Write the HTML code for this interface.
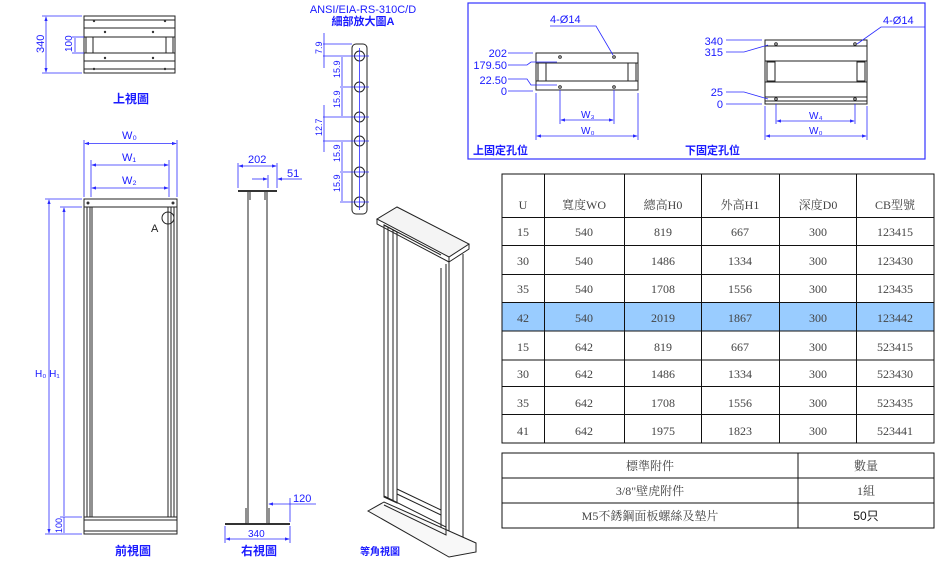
<!DOCTYPE html>
<html><head><meta charset="utf-8"><style>
html,body{margin:0;padding:0;background:#fff;}
svg{display:block;}
.b{fill:#1a1aff;font-family:"Liberation Sans","Noto Sans CJK TC",sans-serif;}
.t{font-family:"Liberation Serif","Noto Serif CJK SC",serif;fill:#444;font-size:12px;text-anchor:middle;}
.d{stroke:#2a2aff;stroke-width:0.8;fill:none;}
.k{stroke:#222;stroke-width:1;fill:none;}
</style></head><body>
<svg width="945" height="564" viewBox="0 0 945 564" xmlns="http://www.w3.org/2000/svg">
<defs><marker id="a" markerWidth="6" markerHeight="6" refX="5" refY="3" orient="auto-start-reverse"><path d="M0,1 L6,3 L0,5z" fill="#2a2aff"/></marker></defs>

<!-- Top view -->
<rect x="84" y="16" width="91" height="57" class="k" fill="#fafafa"/>
<line x1="84" y1="20" x2="175" y2="20" class="k"/><line x1="84" y1="28" x2="175" y2="28" class="k"/>
<line x1="84" y1="37" x2="175" y2="37" class="k"/><line x1="84" y1="53" x2="175" y2="53" class="k"/>
<line x1="84" y1="61" x2="175" y2="61" class="k"/><line x1="84" y1="69" x2="175" y2="69" class="k"/>
<rect x="86" y="37" width="7" height="16" class="k"/><rect x="166" y="37" width="7" height="16" class="k"/>
<g fill="#333"><circle cx="94" cy="21" r="1.2"/><circle cx="165" cy="21" r="1.2"/><circle cx="105" cy="32" r="1.2"/><circle cx="153" cy="32" r="1.2"/><circle cx="105" cy="58" r="1.2"/><circle cx="153" cy="58" r="1.2"/><circle cx="94" cy="69" r="1.2"/><circle cx="165" cy="69" r="1.2"/></g>
<line x1="42" y1="16" x2="82" y2="16" class="d"/><line x1="42" y1="73" x2="82" y2="73" class="d"/>
<line x1="46" y1="17" x2="46" y2="72" class="d" marker-start="url(#a)" marker-end="url(#a)"/>
<text class="b" font-size="11" transform="translate(44,53) rotate(-90)">340</text>
<line x1="72" y1="37" x2="84" y2="37" class="d"/><line x1="72" y1="53" x2="84" y2="53" class="d"/>
<line x1="75" y1="38" x2="75" y2="52" class="d"/>
<text class="b" font-size="10" transform="translate(72,52) rotate(-90)">100</text>
<text class="b" x="113" y="103" font-size="12" font-weight="bold">上視圖</text>

<!-- Front view -->
<rect x="84" y="199" width="93" height="8" class="k" stroke-width="1.5" fill="#eee"/>
<rect x="84" y="199" width="93" height="335" class="k" stroke-width="1.5"/>
<line x1="87" y1="207" x2="87" y2="517" class="k" stroke-width="1.5"/><line x1="90" y1="207" x2="90" y2="517" class="k"/><line x1="92" y1="207" x2="92" y2="517" class="k" stroke-width="1.5"/>
<line x1="168" y1="207" x2="168" y2="517" class="k" stroke-width="1.5"/><line x1="171" y1="207" x2="171" y2="517" class="k"/><line x1="174" y1="207" x2="174" y2="517" class="k" stroke-width="1.5"/>
<line x1="84" y1="517" x2="177" y2="517" class="k" stroke-width="1.5"/><line x1="84" y1="520" x2="177" y2="520" class="k"/><line x1="84" y1="531" x2="177" y2="531" class="k" stroke-width="1.5"/>
<circle cx="88" cy="203" r="1.5" fill="#333"/><circle cx="173" cy="203" r="1.5" fill="#333"/>
<circle cx="168" cy="218" r="6" class="k" stroke-width="0.7"/>
<text x="151" y="232" font-size="11" font-family="Liberation Sans" fill="#222">A</text>
<line x1="84" y1="140" x2="84" y2="197" class="d"/><line x1="177" y1="140" x2="177" y2="197" class="d"/>
<line x1="91" y1="160" x2="91" y2="197" class="d"/><line x1="169" y1="160" x2="169" y2="197" class="d"/>
<line x1="85" y1="143.5" x2="176" y2="143.5" class="d" marker-start="url(#a)" marker-end="url(#a)"/>
<line x1="92" y1="165" x2="168" y2="165" class="d" marker-start="url(#a)" marker-end="url(#a)"/>
<line x1="92" y1="188" x2="168" y2="188" class="d" marker-start="url(#a)" marker-end="url(#a)"/>
<text class="b" x="122" y="139" font-size="11">W₀</text>
<text class="b" x="122" y="161" font-size="11">W₁</text>
<text class="b" x="122" y="184" font-size="11">W₂</text>
<line x1="45" y1="199" x2="82" y2="199" class="d"/><line x1="60" y1="207" x2="82" y2="207" class="d"/>
<line x1="45" y1="534" x2="82" y2="534" class="d"/><line x1="60" y1="517" x2="82" y2="517" class="d"/>
<line x1="49" y1="200" x2="49" y2="533" class="d" marker-start="url(#a)" marker-end="url(#a)"/>
<line x1="64" y1="208" x2="64" y2="516" class="d" marker-start="url(#a)"/>
<line x1="64" y1="517" x2="64" y2="533" class="d"/>
<text class="b" x="35" y="377" font-size="10">H₀ H₁</text>
<text class="b" font-size="9" transform="translate(62,533) rotate(-90)">100</text>
<text class="b" x="115" y="555" font-size="12" font-weight="bold">前視圖</text>

<!-- Right view -->
<line x1="238" y1="191" x2="277" y2="191" stroke="#333" stroke-width="2"/>
<line x1="248" y1="192" x2="248" y2="524" class="k" stroke-width="1.3"/>
<line x1="267" y1="192" x2="267" y2="524" class="k" stroke-width="1.3"/>
<line x1="250" y1="192" x2="250" y2="200" class="k"/><line x1="265" y1="192" x2="265" y2="200" class="k"/>
<line x1="225" y1="524" x2="290" y2="524" stroke="#333" stroke-width="2"/>
<path d="M246,524 V508 M269,524 V508" class="k"/>
<line x1="238" y1="163" x2="238" y2="188" class="d"/><line x1="277" y1="163" x2="277" y2="188" class="d"/><line x1="268" y1="175" x2="268" y2="188" class="d"/>
<line x1="239" y1="166" x2="276" y2="166" class="d" marker-start="url(#a)" marker-end="url(#a)"/>
<text class="b" x="248" y="163" font-size="11">202</text>
<line x1="252" y1="179" x2="267" y2="179" class="d" marker-end="url(#a)"/><line x1="287" y1="179" x2="278" y2="179" class="d" marker-end="url(#a)"/><line x1="287" y1="179" x2="302" y2="179" class="d"/>
<text class="b" x="287" y="177" font-size="11">51</text>
<line x1="290" y1="498" x2="290" y2="522" class="d"/>
<line x1="290" y1="504" x2="269" y2="504" class="d" marker-end="url(#a)"/><line x1="290" y1="504" x2="316" y2="504" class="d"/>
<text class="b" x="293" y="502" font-size="11">120</text>
<line x1="225" y1="526" x2="225" y2="543" class="d"/><line x1="290" y1="526" x2="290" y2="543" class="d"/>
<line x1="226" y1="539" x2="289" y2="539" class="d" marker-start="url(#a)" marker-end="url(#a)"/>
<text class="b" x="248" y="537" font-size="10">340</text>
<text class="b" x="241" y="555" font-size="12" font-weight="bold">右視圖</text>

<!-- Detail A -->
<text class="b" x="363" y="13" font-size="11" text-anchor="middle">ANSI/EIA-RS-310C/D</text>
<text class="b" x="363" y="25" font-size="11" text-anchor="middle" font-weight="bold">細部放大圖A</text>
<rect x="352" y="44" width="15" height="170" rx="4" class="k" stroke-width="0.8"/>
<g class="k" stroke-width="0.8">
<circle cx="359.5" cy="56" r="5"/><circle cx="359.5" cy="87" r="5"/><circle cx="359.5" cy="117" r="5"/><circle cx="359.5" cy="141" r="5"/><circle cx="359.5" cy="172" r="5"/><circle cx="359.5" cy="202" r="5"/>
</g>
<g class="d">
<line x1="323" y1="44" x2="352" y2="44"/><line x1="323" y1="56" x2="369" y2="56"/><line x1="340" y1="87" x2="369" y2="87"/><line x1="323" y1="117" x2="369" y2="117"/><line x1="323" y1="141" x2="369" y2="141"/><line x1="340" y1="172" x2="369" y2="172"/><line x1="340" y1="202" x2="369" y2="202"/>
<line x1="324" y1="33" x2="324" y2="68"/><line x1="342" y1="57" x2="342" y2="86"/><line x1="342" y1="88" x2="342" y2="116"/><line x1="324" y1="105" x2="324" y2="152"/><line x1="342" y1="142" x2="342" y2="171"/><line x1="342" y1="173" x2="342" y2="201"/>
<line x1="359.5" y1="48" x2="359.5" y2="210"/>
</g>
<g class="b" font-size="9">
<text transform="translate(322,54) rotate(-90)">7.9</text>
<text transform="translate(340,78) rotate(-90)">15.9</text>
<text transform="translate(340,108) rotate(-90)">15.9</text>
<text transform="translate(322,136) rotate(-90)">12.7</text>
<text transform="translate(340,162) rotate(-90)">15.9</text>
<text transform="translate(340,192) rotate(-90)">15.9</text>
</g>

<!-- Isometric -->
<g class="k" stroke-width="0.8" fill="#fff">
<path d="M377,219 L397,207 L469,244 L449,257 Z" fill="#f4f4f4"/>
<path d="M377,219 L377,224 L449,262 L449,257" />
<path d="M449,262 L469,249 L469,244"/>
<path d="M384,225 L384,497 L397,503 L397,232 Z"/>
<line x1="388" y1="227" x2="388" y2="499"/><line x1="393" y1="230" x2="393" y2="501"/>
<path d="M449,262 L449,548 L463,548 L463,254" />
<line x1="446" y1="264" x2="446" y2="545"/><line x1="441" y1="268" x2="441" y2="540"/>
<path d="M368,511 L384,502 L476,543 L476,552 L449,557 Z" fill="#f8f8f8"/>
<path d="M384,496 L446,527 L446,535 L384,505"/>
<line x1="397" y1="489" x2="441" y2="510"/><line x1="397" y1="494" x2="441" y2="515"/>
<line x1="384" y1="225" x2="441" y2="255"/>
</g>
<text class="b" x="360" y="555" font-size="10" font-weight="bold">等角視圖</text>

<!-- Blue box -->
<rect x="468" y="3" width="457" height="156" fill="none" stroke="#3333ff" stroke-width="1.2"/>
<rect x="536" y="53" width="102" height="37" class="k" stroke-width="0.8" fill="#fafafa"/>
<line x1="536" y1="63" x2="638" y2="63" class="k" stroke-width="1.2"/><line x1="536" y1="81" x2="638" y2="81" class="k" stroke-width="1.2"/>
<rect x="538" y="63" width="8" height="18" class="k" stroke-width="0.8"/><rect x="628" y="63" width="8" height="18" class="k" stroke-width="0.8"/>
<g class="k" stroke-width="0.7"><circle cx="560" cy="57" r="1.3"/><circle cx="614" cy="57" r="1.3"/><circle cx="560" cy="87" r="1.3"/><circle cx="614" cy="87" r="1.3"/></g>
<g class="d">
<line x1="508" y1="53" x2="533" y2="53"/><path d="M508,65 H527 L531,62 H557"/><path d="M508,79 H527 L531,85 H557"/><line x1="508" y1="91" x2="533" y2="91"/>
<path d="M550,26 H596 L613,55"/>
<line x1="560" y1="90" x2="560" y2="124"/><line x1="614" y1="90" x2="614" y2="124"/>
<line x1="536" y1="93" x2="536" y2="140"/><line x1="638" y1="93" x2="638" y2="140"/>
<line x1="561" y1="120" x2="613" y2="120" marker-start="url(#a)" marker-end="url(#a)"/>
<line x1="537" y1="136" x2="637" y2="136" marker-start="url(#a)" marker-end="url(#a)"/>
</g>
<g class="b" font-size="11" text-anchor="end">
<text x="507" y="57">202</text><text x="507" y="69">179.50</text><text x="507" y="84">22.50</text><text x="507" y="95">0</text>
</g>
<text class="b" x="550" y="23" font-size="11">4-Ø14</text>
<text class="b" x="581" y="118" font-size="10">W₃</text>
<text class="b" x="581" y="134" font-size="10">W₀</text>
<text class="b" x="473" y="154" font-size="11" font-weight="bold">上固定孔位</text>

<rect x="765" y="40" width="102" height="64" class="k" stroke-width="0.8" fill="#fafafa"/>
<line x1="765" y1="46" x2="867" y2="46" class="k"/><line x1="765" y1="61" x2="867" y2="61" class="k" stroke-width="1.5"/><line x1="765" y1="82" x2="867" y2="82" class="k" stroke-width="1.5"/><line x1="765" y1="97" x2="867" y2="97" class="k"/><line x1="765" y1="101" x2="867" y2="101" class="k"/>
<rect x="767" y="62" width="8" height="19" class="k" stroke-width="0.8"/><rect x="857" y="62" width="8" height="19" class="k" stroke-width="0.8"/>
<g class="k" stroke-width="0.7"><circle cx="776" cy="44" r="1.3"/><circle cx="855" cy="44" r="1.3"/><circle cx="776" cy="99" r="1.3"/><circle cx="855" cy="99" r="1.3"/></g>
<g class="d">
<line x1="726" y1="40" x2="762" y2="40"/><path d="M726,52 H744 L768,45"/><path d="M726,92 H744 L768,99"/><line x1="726" y1="104" x2="762" y2="104"/>
<path d="M925,27 H881 L857,44"/>
<line x1="776" y1="104" x2="776" y2="124"/><line x1="855" y1="104" x2="855" y2="124"/>
<line x1="765" y1="106" x2="765" y2="140"/><line x1="867" y1="106" x2="867" y2="140"/>
<line x1="777" y1="121" x2="854" y2="121" marker-start="url(#a)" marker-end="url(#a)"/>
<line x1="766" y1="136" x2="866" y2="136" marker-start="url(#a)" marker-end="url(#a)"/>
</g>
<g class="b" font-size="11" text-anchor="end">
<text x="723" y="45">340</text><text x="723" y="56">315</text><text x="723" y="96">25</text><text x="723" y="108">0</text>
</g>
<text class="b" x="883" y="24" font-size="11">4-Ø14</text>
<text class="b" x="809" y="119" font-size="10">W₄</text>
<text class="b" x="809" y="134" font-size="10">W₀</text>
<text class="b" x="685" y="154" font-size="11" font-weight="bold">下固定孔位</text>

<!-- Spec table -->
<rect x="502" y="302.5" width="432" height="28.5" fill="#99ccff"/>
<g stroke="#111" stroke-width="1" fill="none">
<rect x="502" y="174" width="432" height="269"/>
<line x1="544.5" y1="174" x2="544.5" y2="443"/><line x1="624.5" y1="174" x2="624.5" y2="443"/><line x1="701.5" y1="174" x2="701.5" y2="443"/><line x1="779.5" y1="174" x2="779.5" y2="443"/><line x1="856.5" y1="174" x2="856.5" y2="443"/>
<line x1="502" y1="217.5" x2="934" y2="217.5"/><line x1="502" y1="245.5" x2="934" y2="245.5"/><line x1="502" y1="274.5" x2="934" y2="274.5"/><line x1="502" y1="302.5" x2="934" y2="302.5"/><line x1="502" y1="331" x2="934" y2="331"/><line x1="502" y1="360" x2="934" y2="360"/><line x1="502" y1="386.5" x2="934" y2="386.5"/><line x1="502" y1="414.5" x2="934" y2="414.5"/>
<rect x="502" y="453" width="432" height="75"/>
<line x1="502" y1="478" x2="934" y2="478"/><line x1="502" y1="503" x2="934" y2="503"/><line x1="798" y1="453" x2="798" y2="528"/>
</g>
<g class="t">
<text x="523" y="209">U</text><text x="584" y="209">寬度WO</text><text x="663" y="209">總高H0</text><text x="740" y="209">外高H1</text><text x="818" y="209">深度D0</text><text x="895" y="209">CB型號</text>
<text x="523" y="236">15</text><text x="584" y="236">540</text><text x="663" y="236">819</text><text x="740" y="236">667</text><text x="818" y="236">300</text><text x="895" y="236">123415</text>
<text x="523" y="265">30</text><text x="584" y="265">540</text><text x="663" y="265">1486</text><text x="740" y="265">1334</text><text x="818" y="265">300</text><text x="895" y="265">123430</text>
<text x="523" y="293">35</text><text x="584" y="293">540</text><text x="663" y="293">1708</text><text x="740" y="293">1556</text><text x="818" y="293">300</text><text x="895" y="293">123435</text>
<text x="523" y="322">42</text><text x="584" y="322">540</text><text x="663" y="322">2019</text><text x="740" y="322">1867</text><text x="818" y="322">300</text><text x="895" y="322">123442</text>
<text x="523" y="351">15</text><text x="584" y="351">642</text><text x="663" y="351">819</text><text x="740" y="351">667</text><text x="818" y="351">300</text><text x="895" y="351">523415</text>
<text x="523" y="378">30</text><text x="584" y="378">642</text><text x="663" y="378">1486</text><text x="740" y="378">1334</text><text x="818" y="378">300</text><text x="895" y="378">523430</text>
<text x="523" y="407">35</text><text x="584" y="407">642</text><text x="663" y="407">1708</text><text x="740" y="407">1556</text><text x="818" y="407">300</text><text x="895" y="407">523435</text>
<text x="523" y="435">41</text><text x="584" y="435">642</text><text x="663" y="435">1975</text><text x="740" y="435">1823</text><text x="818" y="435">300</text><text x="895" y="435">523441</text>
<text x="650" y="470">標準附件</text><text x="866" y="470">數量</text>
<text x="650" y="495">3/8"壁虎附件</text><text x="866" y="495">1組</text>
<text x="650" y="520">M5不銹鋼面板螺絲及墊片</text>
</g>
<text x="866" y="520" font-size="12" text-anchor="middle" font-family="Liberation Sans,Noto Sans CJK TC,sans-serif" fill="#111">50只</text>
</svg>
</body></html>
